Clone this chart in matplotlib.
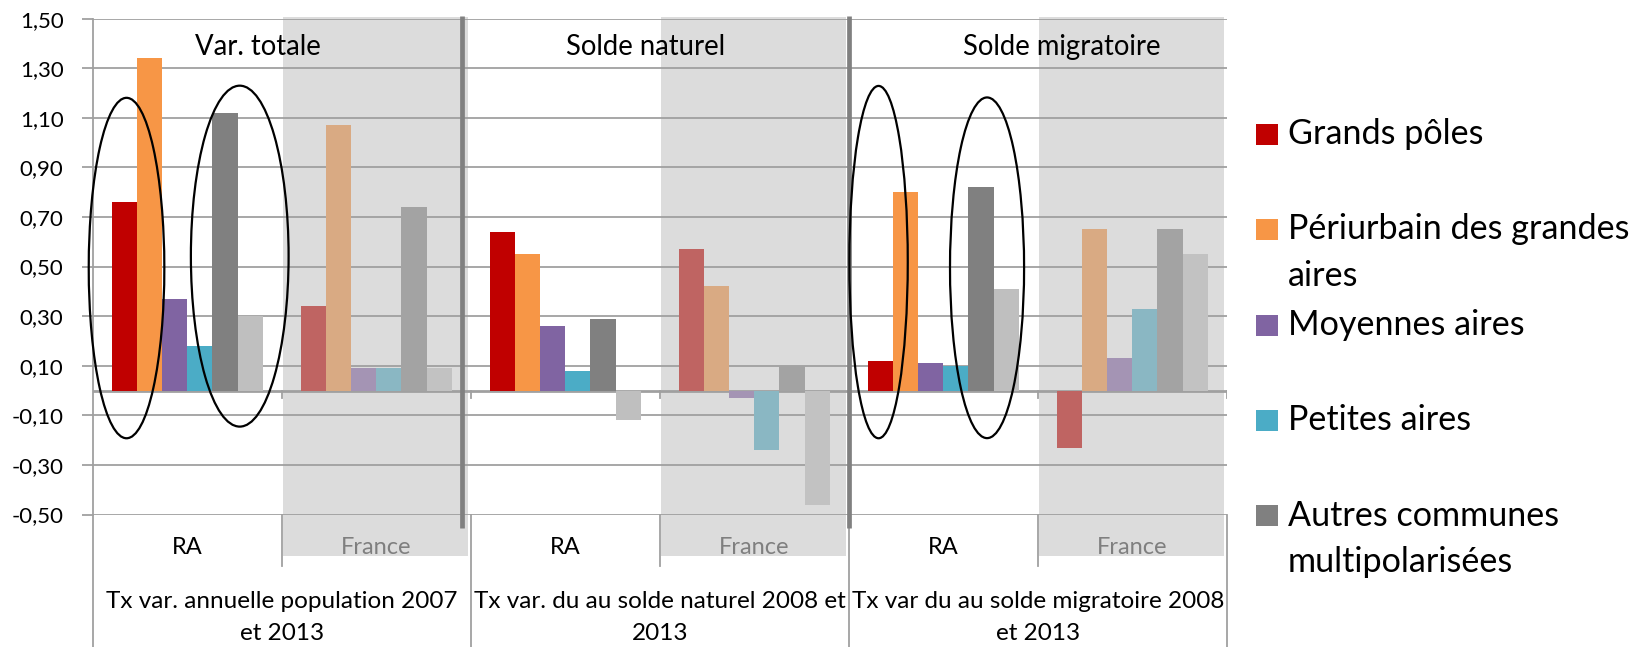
import numpy as np
import matplotlib
matplotlib.use('Agg')
import matplotlib.pyplot as plt
from matplotlib.patches import Rectangle, Ellipse

plt.rcParams['font.family'] = ['Lato', 'DejaVu Sans']

# ---- données ----
panels = ["Var. totale", "Solde naturel", "Solde migratoire"]
panel_labels = ["Tx var. annuelle population 2007\net 2013",
                "Tx var. du au solde naturel 2008 et\n2013",
                "Tx var du au solde migratoire 2008\net 2013"]
zones = ["RA", "France"]

series_names = ["Grands pôles", "Périurbain des grandes\naires", "Moyennes aires",
                "Petites aires", "Autres communes\nmultipolarisées", "Communes isolées"]
# ordre : RA / France pour Var. totale, Solde naturel, Solde migratoire
grands_poles = [0.76, 0.34, 0.64, 0.57, 0.12, -0.23]
periurbain   = [1.34, 1.07, 0.55, 0.42, 0.80, 0.65]
moyennes     = [0.37, 0.09, 0.26, -0.03, 0.11, 0.13]
petites      = [0.18, 0.09, 0.08, -0.24, 0.10, 0.33]
autres       = [1.12, 0.74, 0.29, 0.10, 0.82, 0.65]
isolees      = [0.30, 0.09, -0.12, -0.46, 0.41, 0.55]

yticks = [-0.5, -0.3, -0.1, 0.1, 0.3, 0.5, 0.7, 0.9, 1.1, 1.3, 1.5]

colors_ra = ['#C00000', '#F79646', '#8064A2', '#4BACC6', '#808080', '#BFBFBF']
colors_fr = ['#BF6462', '#D9AA83', '#A494B4', '#8AB7C3', '#A3A3A3', '#C2C2C2']
GRID = '#A0A0A0'

W, H = 1636, 647
fig = plt.figure(figsize=(W / 100, H / 100), dpi=100)
ax_l, ax_r, ax_t, ax_b = 92.7, 1226.7, 18.6, 514.5
ax = fig.add_axes([ax_l / W, 1 - ax_b / H, (ax_r - ax_l) / W, (ax_b - ax_t) / H])


def yfrac(py):
    """pixel vertical -> fraction d'axe"""
    return (ax_b - py) / (ax_b - ax_t)


tr = ax.get_xaxis_transform()
n_groups = len(zones) * len(panels)
x = np.arange(n_groups)
bw = 1 / 7.5
all_series = [grands_poles, periurbain, moyennes, petites, autres, isolees]

# zones grisées (France)
for k in range(len(panels)):
    c = 2 * k + 1
    ax.add_patch(Rectangle((c - 0.495, yfrac(556)), 0.98, yfrac(17) - yfrac(556),
                           transform=tr, facecolor='#DCDCDC', edgecolor='none',
                           zorder=0.2, clip_on=False))

for i, vals in enumerate(all_series):
    cols = [colors_ra[i] if g % 2 == 0 else colors_fr[i] for g in range(n_groups)]
    ax.bar(x + (i - 2.5) * bw, vals, bw, color=cols, zorder=2)

ax.set_xlim(-0.5, n_groups - 0.5)
ax.set_ylim(-0.5, 1.5)
ax.set_yticks(yticks)
ax.set_yticklabels([f"{v:.2f}".replace('.', ',') for v in yticks], fontsize=16)
ax.tick_params(axis='y', length=8, width=1.3, color=GRID, pad=13)
ax.set_xticks([])
ax.set_axisbelow(True)
ax.grid(axis='y', color=GRID, linewidth=1.3, zorder=0.5)
for s in ['top', 'right', 'bottom']:
    ax.spines[s].set_visible(False)
ax.spines['left'].set_color(GRID)
ax.spines['left'].set_linewidth(1.3)
ax.patch.set_alpha(0)

# axe horizontal à zéro + petites graduations
ax.axhline(0, color=GRID, linewidth=2, zorder=1)
for b in np.arange(0.5, n_groups, 1):
    ax.plot([b, b], [0, -0.03], color=GRID, linewidth=1.3, zorder=1)

# séparations des étiquettes de catégories
for b in np.arange(0.5, n_groups, 2):
    ax.plot([b, b], [0, yfrac(566)], transform=tr, color=GRID, lw=1.3, clip_on=False)
for b in np.arange(-0.5, n_groups + 0.5, 2):
    ax.plot([b, b], [0, yfrac(H)], transform=tr, color=GRID, lw=1.3, clip_on=False)

# traits épais entre les panneaux
for b in [1.456, 3.503]:
    ax.plot([b, b], [yfrac(528), yfrac(16)], transform=tr, color='#808080', lw=3.4,
            clip_on=False, zorder=3, solid_capstyle='butt')

# étiquettes
for g in range(n_groups):
    z = zones[g % 2]
    ax.text(g, yfrac(548), z, transform=tr, ha='center', va='center', fontsize=17,
            color='black' if z == 'RA' else '#7F7F7F')
for k, lab in enumerate(panel_labels):
    for j, line in enumerate(lab.split('\n')):
        ax.text(2 * k + 0.5, yfrac(601.5 + 31.5 * j), line, transform=tr, ha='center',
                va='center', fontsize=17.5)

title_x = [0.376, 2.426, 4.627]
for k, t in enumerate(panels):
    ax.text(title_x[k], yfrac(46.6), t, transform=tr, ha='center', va='center',
            fontsize=19.8, zorder=4)

# ellipses
for cx, cy, ew, eh in [(-0.321, 0.494, 0.40, 1.373), (0.278, 0.542, 0.517, 1.375),
                       (3.658, 0.518, 0.309, 1.421), (4.232, 0.495, 0.392, 1.374)]:
    ax.add_patch(Ellipse((cx, cy), ew, eh, fill=False, edgecolor='black', lw=1.6,
                         zorder=5, clip_on=False))

# légende
leg_y = [134, 229, 325, 420, 515.5]
for i in range(5):
    fig.add_artist(Rectangle((1256 / W, 1 - (leg_y[i] + 10.5) / H), 22 / W, 21 / H,
                             transform=fig.transFigure, facecolor=colors_ra[i],
                             edgecolor='none'))
    for j, line in enumerate(series_names[i].split('\n')):
        fig.text(1288 / W, 1 - (leg_y[i] + 46.5 * j) / H, line, ha='left', va='center',
                 fontsize=24.6)

fig.savefig('out.png', dpi=100)
